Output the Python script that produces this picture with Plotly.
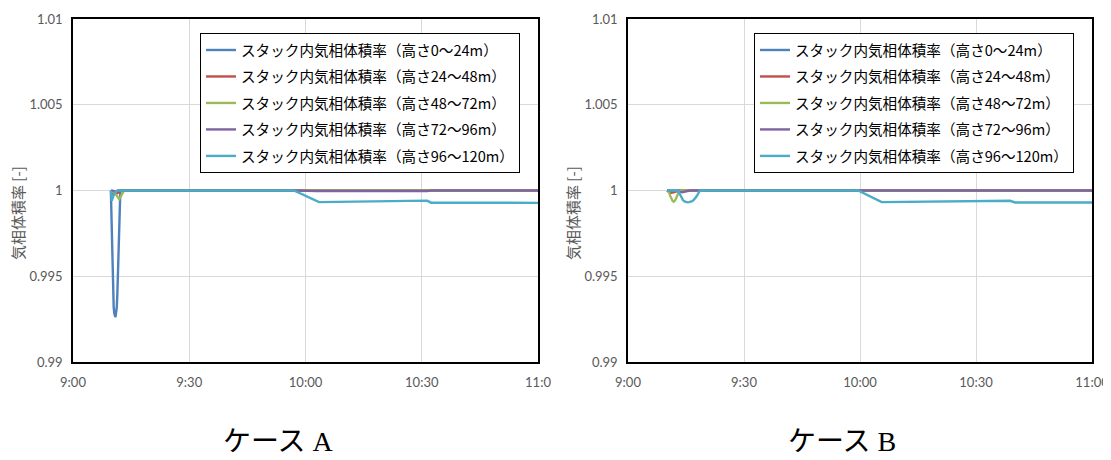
import pandas as pd
import plotly.graph_objects as go

# ---------------- data (minutes after 9:00, values) ----------------
series_names = [
    "スタック内気相体積率（高さ0～24m）",
    "スタック内気相体積率（高さ24～48m）",
    "スタック内気相体積率（高さ48～72m）",
    "スタック内気相体積率（高さ72～96m）",
    "スタック内気相体積率（高さ96～120m）",
]
colors = ["#4F81BD", "#C0504D", "#9BBB59", "#8064A2", "#4BACC6"]

# Case A
a_blue_t = [9.77, 9.9, 10.05, 10.2, 10.35, 10.5, 10.65, 10.8, 10.9, 11.0, 11.15, 11.3,
            11.45, 11.6, 11.75, 11.9, 12.05, 12.2, 12.35, 120]
a_blue_v = [1.0, 0.9985, 0.9968, 0.9952, 0.9940, 0.9932, 0.99285, 0.99267, 0.99263, 0.99267,
            0.99285, 0.9932, 0.9940, 0.9952, 0.9968, 0.9983, 0.9994, 0.99985, 1.0, 1.0]
a_red_t = [9.8, 10.5, 11.5, 12.5, 13.5, 120]
a_red_v = [0.99985, 0.9998, 0.99985, 1.0, 1.0, 1.0]
a_green_t = [9.8, 10.8, 11.3, 11.6, 11.9, 12.2, 12.6, 13.2, 120]
a_green_v = [1.0, 0.99985, 0.9997, 0.99955, 0.9995, 0.9996, 0.9998, 1.0, 1.0]
a_purple_t = [9.8, 11.0, 12.0, 13.5, 57.0, 63.0, 91.4, 92.4, 120]
a_purple_v = [1.0, 0.99995, 1.00002, 1.0, 1.0, 0.99997, 0.99997, 1.0, 1.0]
a_cyan_t = [9.8, 10.0, 10.3, 10.8, 11.5, 13.0, 57.0, 63.5, 91.4, 92.4, 120]
a_cyan_v = [1.0, 0.9994, 0.9996, 0.9999, 1.0, 1.0, 1.0, 0.99932, 0.99941, 0.99929, 0.99928]

# Case B
b_blue_t = [10.1, 12.0, 13.0, 120]
b_blue_v = [1.0, 0.99995, 1.0, 1.0]
b_red_t = [10.1, 11.0, 12.0, 13.0, 120]
b_red_v = [1.0, 0.99985, 0.9999, 1.0, 1.0]
b_green_t = [10.1, 10.6, 10.9, 11.2, 11.5, 11.8, 12.1, 12.4, 12.7, 13.1, 13.5, 120]
b_green_v = [1.0, 0.9999, 0.9997, 0.99952, 0.9994, 0.99935, 0.9994, 0.99952, 0.9997, 0.9999, 1.0, 1.0]
b_purple_t = [10.1, 12.0, 13.0, 14.0, 16.0, 59.5, 65.6, 98.8, 100.1, 120]
b_purple_v = [1.0, 1.0, 0.99995, 0.9999, 1.0, 1.0, 0.99996, 0.99996, 1.0, 1.0]
b_cyan_t = [10.1, 13.0, 13.4, 13.8, 14.2, 14.6, 15.0, 15.4, 15.8, 16.2, 16.6, 17.0, 17.4,
            17.8, 18.2, 18.6, 59.5, 65.6, 98.8, 100.1, 120]
b_cyan_v = [1.0, 1.0, 0.9998, 0.99958, 0.99944, 0.99936, 0.99932, 0.99931, 0.99932, 0.99934,
            0.99938, 0.99945, 0.99955, 0.99968, 0.99984, 1.0, 1.0, 0.99932, 0.9994, 0.9993, 0.9993]

tick_minutes = [0, 30, 60, 90, 120]
tick_text_a = ["9:00", "9:30", "10:00", "10:30", "11:0"]
tick_text_b = ["9:00", "9:30", "10:00", "10:30", "11:00"]
y_tick_vals = [0.99, 0.995, 1.0, 1.005, 1.01]
y_tick_text = ["0.99", "0.995", "1", "1.005", "1.01"]
y_title = "気相体積率 [-]"
panel_titles = ["ケース A", "ケース B"]

# ---------------- build ----------------
base = pd.Timestamp("2000-01-01 09:00")


def to_time(mins):
    return base + pd.to_timedelta(mins, unit="min")


case_a = [(a_blue_t, a_blue_v), (a_red_t, a_red_v), (a_green_t, a_green_v),
          (a_purple_t, a_purple_v), (a_cyan_t, a_cyan_v)]
case_b = [(b_blue_t, b_blue_v), (b_red_t, b_red_v), (b_green_t, b_green_v),
          (b_purple_t, b_purple_v), (b_cyan_t, b_cyan_v)]

# page body has an 8px margin; figure is sized so it fits the window
OFF = 8
W, H = 1103, 452
fig = go.Figure()

for i, (t, v) in enumerate(case_a):
    fig.add_trace(go.Scatter(x=to_time(t), y=v, mode="lines", name=series_names[i],
                             line=dict(color=colors[i], width=2.4),
                             xaxis="x", yaxis="y", legend="legend",
                             legendgroup=f"a{i}"))
for i, (t, v) in enumerate(case_b):
    fig.add_trace(go.Scatter(x=to_time(t), y=v, mode="lines", name=series_names[i],
                             line=dict(color=colors[i], width=2.4),
                             xaxis="x2", yaxis="y2", legend="legend2",
                             legendgroup=f"b{i}"))


def px(p):
    return (p - OFF) / W


def py(p):
    return 1 - (p - OFF) / H


tick_font = dict(family="Lato, 'Noto Sans', sans-serif", size=13, color="#595959")
xcommon = dict(range=[to_time(0), to_time(120)], tickvals=to_time(tick_minutes),
               showgrid=True, gridcolor="#D9D9D9", gridwidth=1, showline=True,
               mirror=True, linecolor="#000000", linewidth=1.5, ticks="",
               zeroline=False, tickfont=tick_font, ticklabelstandoff=8,
               automargin=False, fixedrange=True)
ycommon = dict(range=[0.99, 1.01], tickvals=y_tick_vals, ticktext=y_tick_text,
               showgrid=True, gridcolor="#D9D9D9", gridwidth=1, showline=True,
               mirror=True, linecolor="#000000", linewidth=1.5, ticks="",
               zeroline=False, tickfont=tick_font, ticklabelstandoff=6,
               automargin=False, fixedrange=True)

legend_common = dict(bgcolor="white", bordercolor="#000000", borderwidth=1,
                     font=dict(family="'Noto Sans CJK JP', sans-serif", size=14.6, color="#000000"),
                     tracegroupgap=4.5, xanchor="left", yanchor="top", itemwidth=30)

ytitle_font = dict(family="'Noto Sans CJK JP', sans-serif", size=15, color="#595959")
title_font = dict(family="'Liberation Serif', 'Noto Sans CJK JP', serif", size=28, color="#000000")

fig.update_layout(
    width=W, height=H,
    margin=dict(l=0, r=0, t=0, b=0),
    paper_bgcolor="white", plot_bgcolor="white",
    showlegend=True,
    xaxis=dict(domain=[px(73), px(538)], anchor="y", ticktext=tick_text_a, **xcommon),
    yaxis=dict(domain=[py(362), py(19)], anchor="x", **ycommon),
    xaxis2=dict(domain=[px(628), px(1092)], anchor="y2", ticktext=tick_text_b, **xcommon),
    yaxis2=dict(domain=[py(362), py(19)], anchor="x2", **ycommon),
    legend=dict(x=px(200), y=py(33), **legend_common),
    legend2=dict(x=px(754), y=py(33), **legend_common),
    annotations=[
        dict(text=y_title, x=px(17), y=py(213), xref="paper", yref="paper",
             xanchor="center", yanchor="middle", textangle=-90, showarrow=False,
             font=ytitle_font),
        dict(text=y_title, x=px(572), y=py(213), xref="paper", yref="paper",
             xanchor="center", yanchor="middle", textangle=-90, showarrow=False,
             font=ytitle_font),
        dict(text=panel_titles[0], x=px(278), y=py(441), xref="paper", yref="paper",
             xanchor="center", yanchor="middle", showarrow=False, font=title_font),
        dict(text=panel_titles[1], x=px(842), y=py(441), xref="paper", yref="paper",
             xanchor="center", yanchor="middle", showarrow=False, font=title_font),
    ],
)

fig.write_html("out.html")
